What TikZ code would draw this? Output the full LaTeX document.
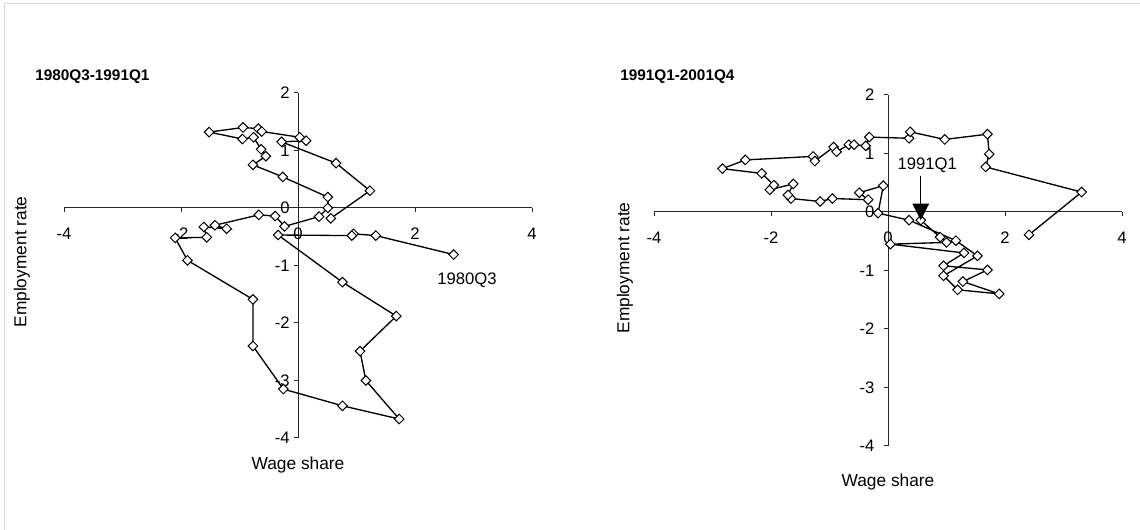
\documentclass[tikz,border=0pt]{standalone}
\usepackage{fontspec}
\setmainfont{Liberation Sans}
\usetikzlibrary{shapes.geometric,arrows.meta}

\tikzset{
  axisline/.style={black!85, line width=0.75pt},
  series/.style={black, line width=1pt},
  mk/.style={diamond, draw=black, fill=white, line width=0.75pt,
    inner sep=0pt, minimum size=7.5pt},
  ticklab/.style={font=\fontsize{12.5}{14}\selectfont, inner sep=0pt},
  axtitle/.style={font=\fontsize{13}{15}\selectfont, inner sep=0pt},
  paneltitle/.style={font=\bfseries\fontsize{11.5}{13}\selectfont,
    anchor=west, inner sep=0pt},
  pointer/.style={-{Triangle[width=12.5pt,length=12.5pt]}, line width=1pt},
}

\begin{document}
\begin{tikzpicture}[x=0.75pt, y=0.75pt]
\useasboundingbox (0,0) rectangle (1140,530);

% Light frame of the chart area
\draw[black!15] (4,0) -- (4,527) -- (1140,527);

% Where the two axes cross in each panel
\coordinate (O1) at (298,322);
\coordinate (O2) at (888,318);

% Titles of the panels and axes
\node[paneltitle] (title1) at (35,453) {1980Q3-1991Q1};
\node[paneltitle] (title2) at (620,453) {1991Q1-2001Q4};
\node[axtitle, rotate=90] (ylab1) at (22,268) {Employment rate};
\node[axtitle, rotate=90] (ylab2) at (625,262) {Employment rate};
\node[axtitle] (xlab1) at (298,65) {Wage share};
\node[axtitle] (xlab2) at (888,48) {Wage share};

% ---- Left panel: 1980Q3 to 1991Q1
\begin{scope}[shift={(O1)}, x=43.875pt, y=43.125pt]
  % axes with ticks and numbers
  \draw[axisline] (-4,0) -- (4,0);
  \draw[axisline] (0,-4) -- (0,2);
  \foreach \x [count=\k] in {-4,-2,0,2,4} {
    \draw[axisline] (\x,0) -- ++(0,-3pt);
    \node[ticklab] (xa\k) at ([yshift=-19.5pt]\x,0) {\x};
  }
  \foreach \y [count=\k] in {-4,...,2} {
    \draw[axisline] (0,\y) -- ++(-3pt,0);
    \node[ticklab, anchor=east] (ya\k) at ([xshift=-6pt]0,\y) {\y};
  }

  % the quarters, in time order
  \foreach \x/\y [count=\i] in {2.66/-0.81, 1.33/-0.48, 0.95/-0.45,
      0.92/-0.48, -0.34/-0.47, 0.76/-1.29, 1.68/-1.88, 1.06/-2.49,
      1.16/-3.00, 1.73/-3.67, 0.76/-3.44, -0.25/-3.15, -0.77/-2.40,
      -0.77/-1.59, -1.89/-0.91, -2.10/-0.52, -1.56/-0.51, -1.61/-0.33,
      -1.22/-0.36, -1.42/-0.30, -0.67/-0.12, -0.39/-0.14, -0.23/-0.32,
      0.36/-0.15, 0.51/0.00, 0.51/0.19, -0.26/0.54, -0.77/0.75,
      -0.55/0.90, -0.63/1.02, -0.76/1.23, -0.95/1.20, -1.52/1.32,
      -0.94/1.40, -0.68/1.38, -0.62/1.33, 0.03/1.23, 0.14/1.17,
      -0.28/1.15, 0.65/0.78, 1.23/0.30, 0.56/-0.18}
    {\coordinate (L\i) at (\x,\y);}
  \draw[series] (L1) \foreach \i in {2,...,42} {-- (L\i)};
  \foreach \i in {1,...,42} {\node[mk] (mL\i) at (L\i) {};}

  % first quarter
  \node[ticklab] (lab80) at (2.89,-1.25) {1980Q3};
\end{scope}

% ---- Right panel: 1991Q1 to 2001Q4
\begin{scope}[shift={(O2)}, x=43.875pt, y=43.875pt]
  % axes with ticks and numbers
  \draw[axisline] (-4,0) -- (4,0);
  \draw[axisline] (0,-4) -- (0,2);
  \foreach \x [count=\k] in {-4,-2,0,2,4} {
    \draw[axisline] (\x,0) -- ++(0,-3pt);
    \node[ticklab] (xb\k) at ([yshift=-19.5pt]\x,0) {\x};
  }
  \foreach \y [count=\k] in {-4,...,2} {
    \draw[axisline] (0,\y) -- ++(-3pt,0);
    \node[ticklab, anchor=east] (yb\k) at ([xshift=-10pt]0,\y) {\y};
  }

  % the quarters, in time order
  \foreach \x/\y [count=\i] in {0.56/-0.14, 0.89/-0.43, 1.00/-0.52,
      0.04/-0.55, 1.30/-0.70, 0.95/-0.92, 1.70/-0.99, 1.28/-1.19,
      1.90/-1.40, 1.19/-1.33, 0.95/-1.09, 1.53/-0.75, 1.16/-0.49,
      0.36/-0.14, -0.17/-0.02, -0.08/0.45, -0.49/0.33, -0.34/0.21,
      -0.95/0.23, -1.16/0.18, -1.66/0.23, -1.71/0.29, -1.62/0.48,
      -2.02/0.38, -1.95/0.46, -2.16/0.66, -2.83/0.74, -2.44/0.89,
      -1.28/0.95, -1.25/0.87, -0.93/1.11, -0.88/1.03, -0.67/1.15,
      -0.58/1.15, -0.38/1.13, -0.32/1.28, 0.36/1.26, 0.38/1.37,
      0.97/1.24, 1.70/1.33, 1.73/0.99, 1.67/0.77, 3.31/0.34, 2.41/-0.39}
    {\coordinate (R\i) at (\x,\y);}
  \draw[series] (R1) \foreach \i in {2,...,44} {-- (R\i)};
  \foreach \i in {1,...,44} {\node[mk] (mR\i) at (R\i) {};}

  % first quarter, with its pointer
  \node[ticklab] (lab91) at (0.67,0.80) {1991Q1};
  \draw[pointer, shorten <=2pt] (lab91.south -| R1) -- (R1);
\end{scope}
\end{tikzpicture}
\end{document}
